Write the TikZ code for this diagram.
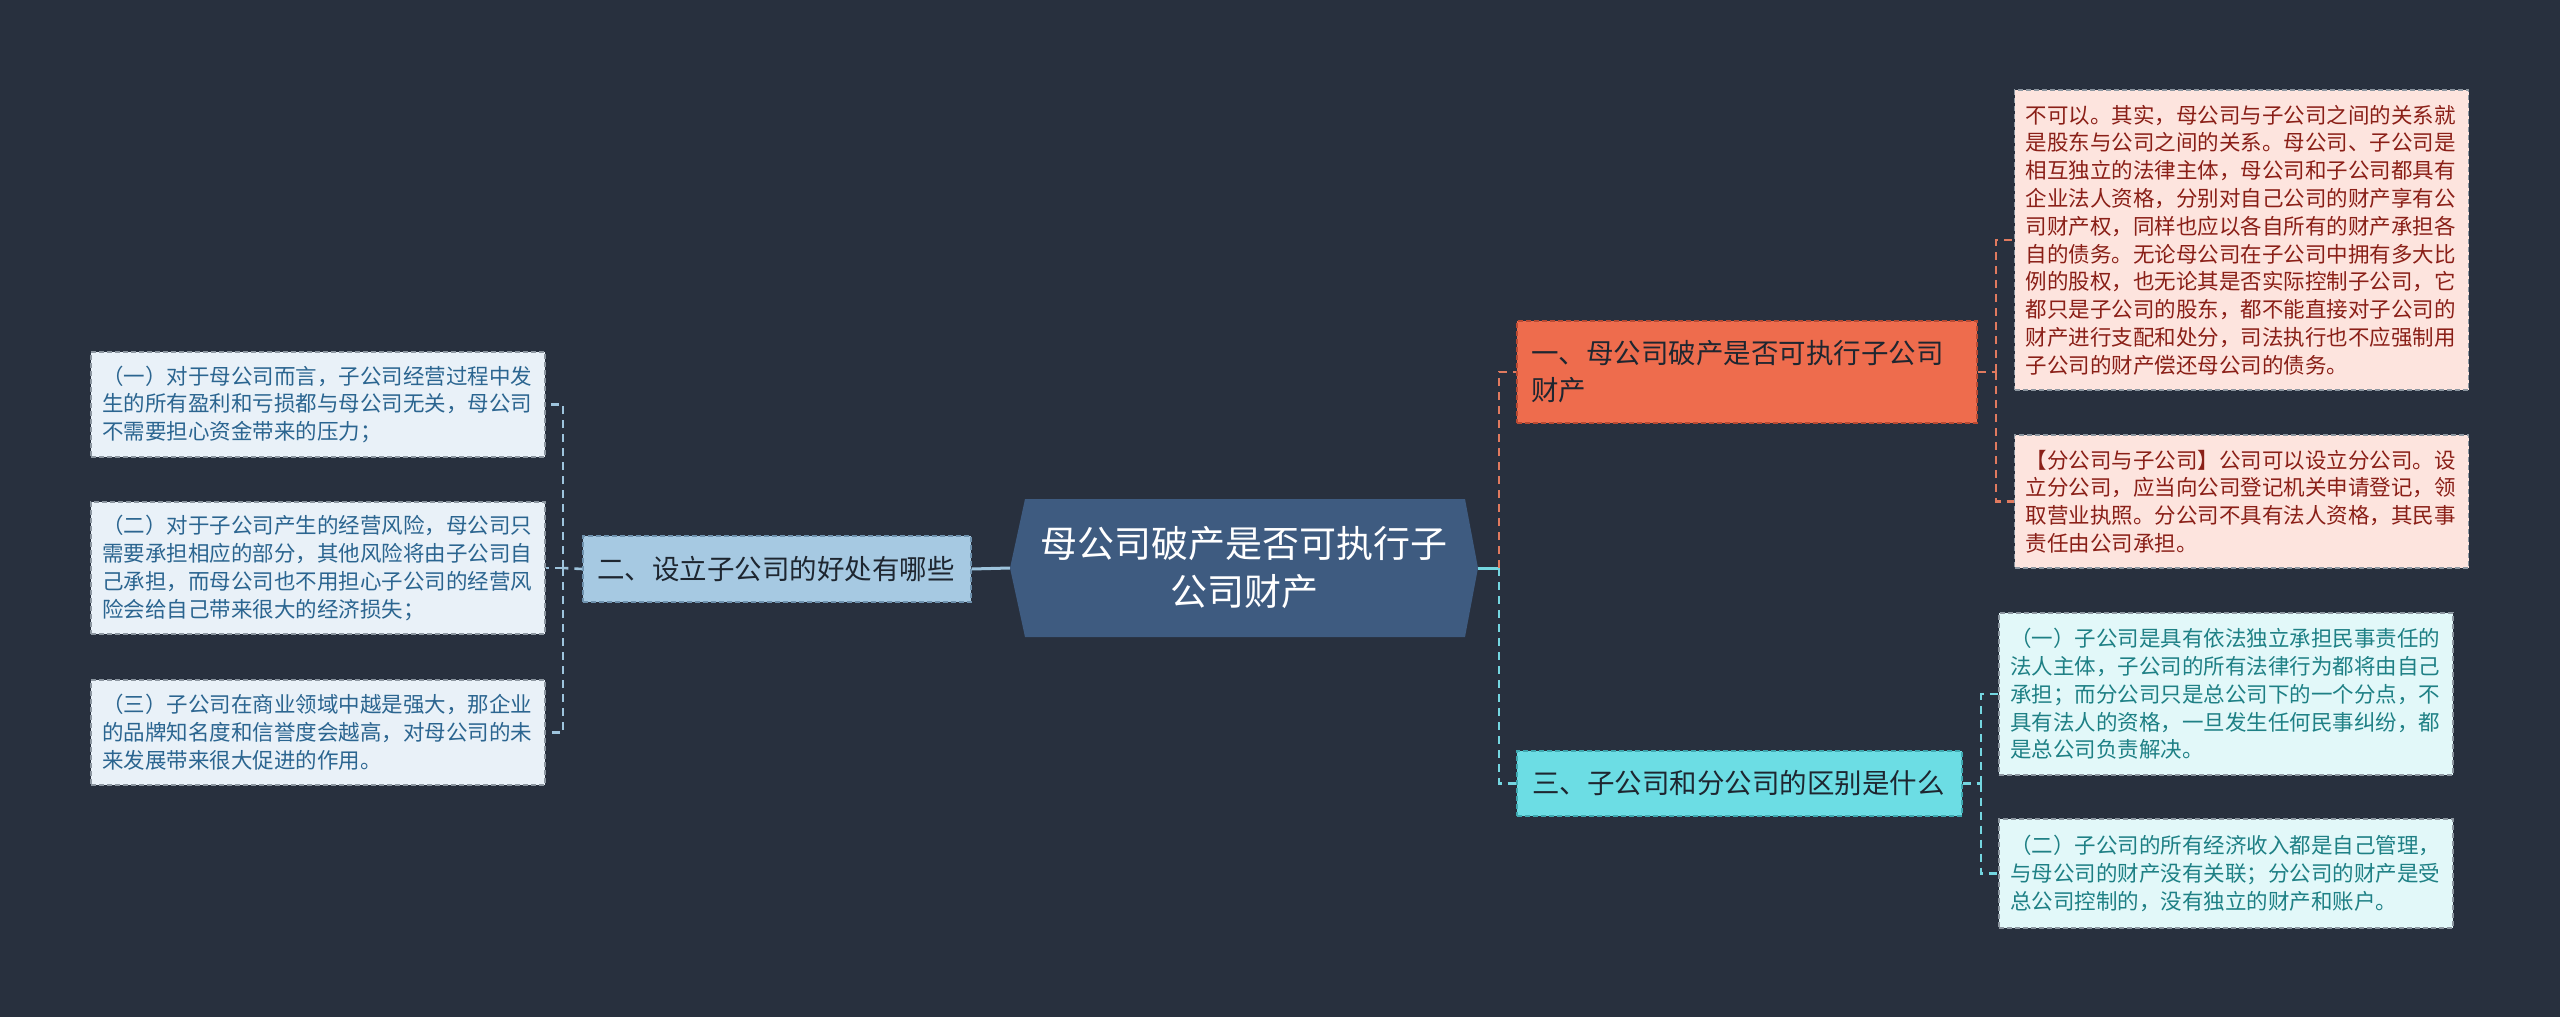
\documentclass[tikz,border=0pt]{standalone}
\usepackage{fontspec}
\setmainfont{Noto Sans CJK SC}
\definecolor{bg}{HTML}{28303E}
\definecolor{rootfill}{HTML}{3E5B80}
\definecolor{btwofill}{HTML}{A6C9E2}
\definecolor{btwodraw}{HTML}{6F92AE}
\definecolor{leafLfill}{HTML}{E9F1F8}
\definecolor{leafLtext}{HTML}{2B6590}
\definecolor{bonefill}{HTML}{EE6C4D}
\definecolor{bonedraw}{HTML}{B94A33}
\definecolor{leafRfill}{HTML}{FDE4DE}
\definecolor{leafRtext}{HTML}{8A1F17}
\definecolor{bthreefill}{HTML}{6CDDE4}
\definecolor{bthreedraw}{HTML}{3FA9B1}
\definecolor{leafCfill}{HTML}{E2F8F9}
\definecolor{leafCtext}{HTML}{1E8085}
\definecolor{leafdraw}{HTML}{8C96A0}
\definecolor{conorange}{HTML}{E07A5F}
\definecolor{concyan}{HTML}{74D6E0}
\definecolor{conblue}{HTML}{9EC4DD}
\definecolor{darktext}{HTML}{1E2630}
\begin{document}
\begin{tikzpicture}[x=1pt,y=-1pt,
  boxbase/.style={rectangle, align=left, inner ysep=4pt, line width=1.2pt, dash pattern=on 5pt off 3pt},
  leafbox/.style={boxbase, draw=leafdraw, inner xsep=11pt, text width=432pt, font=\fontsize{21.5}{27.8}\selectfont},
  leafL/.style={leafbox, fill=leafLfill, text=leafLtext},
  leafR/.style={leafbox, fill=leafRfill, text=leafRtext},
  leafC/.style={leafbox, fill=leafCfill, text=leafCtext},
  branchbox/.style={boxbase, font=\fontsize{27.5}{37}\selectfont, text=darktext},
  conbase/.style={line width=2.6pt, dash pattern=on 8pt off 6pt},
  conL/.style={conbase, draw=conblue},
  conO/.style={conbase, draw=conorange},
  conC/.style={conbase, draw=concyan},
  rootcon/.style={line width=3pt}
]
\useasboundingbox (0,0) rectangle (2560,1017);
\fill[bg] (0,0) rectangle (2560,1017);

% root
\fill[rootfill] (1010,568) -- (1025,499) -- (1465,499) -- (1478,568) -- (1465,637) -- (1025,637) -- cycle;
\node[rectangle, minimum width=468pt, minimum height=138pt, inner sep=0pt, align=center, text=white,
  font=\fontsize{37}{48}\selectfont] (root) at (1244,568) {母公司破产是否可执行子\\公司财产};

% branches
\node[branchbox, fill=btwofill, draw=btwodraw, inner xsep=14pt, text width=360pt, minimum height=66pt]
  (b2) at (777,569) {二、设立子公司的好处有哪些};
\node[branchbox, fill=bonefill, draw=bonedraw, inner xsep=14pt, text width=432pt, minimum height=102pt]
  (b1) at (1747,372) {一、母公司破产是否可执行子公司\\财产};
\node[branchbox, fill=bthreefill, draw=bthreedraw, inner xsep=15pt, text width=415pt, minimum height=65pt]
  (b3) at (1739.5,783.5) {三、子公司和分公司的区别是什么};

% left leaves
\node[leafL, minimum height=105pt] (L1) at (318,404.5) {（一）对于母公司而言，子公司经营过程中发\\生的所有盈利和亏损都与母公司无关，母公司\\不需要担心资金带来的压力；};
\node[leafL, minimum height=132pt] (L2) at (318,568) {（二）对于子公司产生的经营风险，母公司只\\需要承担相应的部分，其他风险将由子公司自\\己承担，而母公司也不用担心子公司的经营风\\险会给自己带来很大的经济损失；};
\node[leafL, minimum height=105pt] (L3) at (318,732.5) {（三）子公司在商业领域中越是强大，那企业\\的品牌知名度和信誉度会越高，对母公司的未\\来发展带来很大促进的作用。};

% right leaves (branch 1)
\node[leafR, minimum height=300pt] (R1) at (2241.5,240) {不可以。其实，母公司与子公司之间的关系就\\是股东与公司之间的关系。母公司、子公司是\\相互独立的法律主体，母公司和子公司都具有\\企业法人资格，分别对自己公司的财产享有公\\司财产权，同样也应以各自所有的财产承担各\\自的债务。无论母公司在子公司中拥有多大比\\例的股权，也无论其是否实际控制子公司，它\\都只是子公司的股东，都不能直接对子公司的\\财产进行支配和处分，司法执行也不应强制用\\子公司的财产偿还母公司的债务。};
\node[leafR, minimum height=133pt] (R2) at (2241.5,501.5) {【分公司与子公司】公司可以设立分公司。设\\立分公司，应当向公司登记机关申请登记，领\\取营业执照。分公司不具有法人资格，其民事\\责任由公司承担。};

% right leaves (branch 3)
\node[leafC, minimum height=162pt] (C1) at (2226,694) {（一）子公司是具有依法独立承担民事责任的\\法人主体，子公司的所有法律行为都将由自己\\承担；而分公司只是总公司下的一个分点，不\\具有法人的资格，一旦发生任何民事纠纷，都\\是总公司负责解决。};
\node[leafC, minimum height=109pt] (C2) at (2226,873.5) {（二）子公司的所有经济收入都是自己管理，\\与母公司的财产没有关联；分公司的财产是受\\总公司控制的，没有独立的财产和账户。};

% junction points
\coordinate (jL) at (563,568);
\coordinate (jR) at (1499,568);
\coordinate (j1) at (1996,372);
\coordinate (j3) at (1981,783.5);

% connectors
\draw[rootcon, draw=conblue] (root.west) -- (b2.east);
\draw[rootcon, draw=concyan] (root.east) -- (jR);
\draw[conL] (b2.west) -- (jL);
\draw[conL] (jL) |- (L1.east);
\draw[conL] (jL) -- (L2.east);
\draw[conL] (jL) |- (L3.east);
\draw[conO] (jR) |- (b1.west);
\draw[conC] (jR) |- (b3.west);
\draw[conO] (b1.east) -- (j1);
\draw[conO] (j1) |- (R1.west);
\draw[conO] (j1) |- (R2.west);
\draw[conC] (b3.east) -- (j3);
\draw[conC] (j3) |- (C1.west);
\draw[conC] (j3) |- (C2.west);
\end{tikzpicture}
\end{document}
